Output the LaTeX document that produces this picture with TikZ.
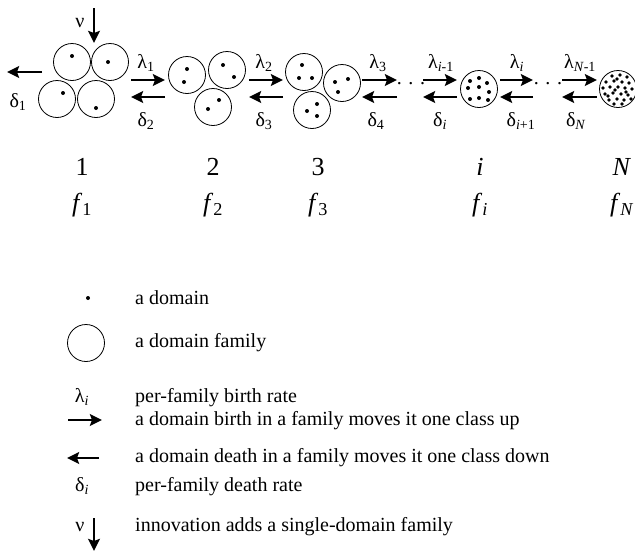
\documentclass[tikz,border=0pt]{standalone}
\usepackage{fontspec}
\setmainfont{Liberation Serif}
\usepackage{tikz}
\usetikzlibrary{arrows.meta, positioning, calc}

\newcommand{\rsub}[1]{\textsubscript{#1}}

\begin{document}
\begin{tikzpicture}[x=1pt, y=-1pt,
    rate/.style={line width=2.5pt, -{Stealth[length=12pt, width=11.5pt, inset=2pt]}},
    family/.style={draw, circle, line width=0.8pt, minimum size=37pt, inner sep=0pt},
    greek/.style={font=\fontsize{20}{22}\selectfont, inner sep=1pt},
    big/.style={font=\fontsize{26}{28}\selectfont, inner sep=0pt},
    legend/.style={font=\fontsize{20}{22}\selectfont, anchor=west, inner sep=0pt}
]
    \useasboundingbox (0,0) rectangle (635,555);

    % Families of class 1
    \node[family] (c1a) at (72,62) {};
    \node[family] (c1b) at (110,62) {};
    \node[family] (c1c) at (57,99) {};
    \node[family] (c1d) at (96,99) {};
    \foreach \x/\y in {72/56, 108/62, 63/93, 96/108}
        \fill (\x,\y) circle (2pt);

    % Families of class 2
    \node[family] (c2a) at (187,75) {};
    \node[family] (c2b) at (227,70) {};
    \node[family] (c2c) at (213,107) {};
    \foreach \x/\y in {187/69, 184/82, 223/65, 234/77, 219/100, 208/109}
        \fill (\x,\y) circle (2pt);

    % Families of class 3
    \node[family] (c3a) at (304,72) {};
    \node[family] (c3b) at (342,83) {};
    \node[family] (c3c) at (312,110) {};
    \foreach \x/\y in {302/65, 299/78, 312/78, 335/82, 348/79, 338/92, 317/104, 307/111, 317/116}
        \fill (\x,\y) circle (2pt);

    % Family of class i
    \node[family] (ci) at (479,89) {};
    \foreach \x/\y in {470/81, 479/78, 487/83, 468/88, 479/87, 489/92, 470/99, 479/98, 488/100}
        \fill (\x,\y) circle (2pt);

    % Family of class N
    \node[family] (cN) at (618,89) {};
    \foreach \x/\y in {-6/-13, 2/-14, 9/-12, -12/-7, -4/-8, 4/-7, 11/-6, -15/-1, -8/-2, 0/-2,
        7/-1, 14/0, -13/5, -5/4, 3/5, 10/6, -9/11, -1/10, 6/11, 13/10, -4/15, 4/15,
        -1/-10, -10/7, 8/3, -3/1}
        \fill ($(cN)+(\x,\y)$) circle (1.8pt);

    % Innovation and loss of class 1
    \coordinate (nuA) at (94,8);
    \coordinate (nuB) at (94,43);
    \draw[rate] (nuA) -- (nuB);
    \node[greek] (nu) at (80,23) {ν};
    \coordinate (d1A) at (42,72);
    \coordinate (d1B) at (7,72);
    \draw[rate] (d1A) -- (d1B);
    \node[greek] (del1) at (18,102) {δ\rsub{1}};

    % Births (upper) and deaths (lower) between classes
    \foreach \n/\xa/\xb in {1/131/165, 2/249/283, 3/362/397, 4/423/457, 5/500/533, 6/562/597} {
        \coordinate (b\n a) at (\xa,80);
        \coordinate (b\n b) at (\xb,80);
        \coordinate (d\n a) at (\xb,97);
        \coordinate (d\n b) at (\xa,97);
        \draw[rate] (b\n a) -- (b\n b);
        \draw[rate] (d\n a) -- (d\n b);
    }

    % Rate labels
    \node[greek] (lam1) at (146,63) {λ\rsub{1}};
    \node[greek] (del2) at (146,121) {δ\rsub{2}};
    \node[greek] (lam2) at (264,63) {λ\rsub{2}};
    \node[greek] (del3) at (264,121) {δ\rsub{3}};
    \node[greek] (lam3) at (378,63) {λ\rsub{3}};
    \node[greek] (del4) at (376,121) {δ\rsub{4}};
    \node[greek] (lami1) at (441,63) {λ\rsub{\textit{i}-1}};
    \node[greek] (deli) at (440,121) {δ\rsub{\textit{i}}};
    \node[greek] (lami) at (517,63) {λ\rsub{\textit{i}}};
    \node[greek] (deli1) at (521,121) {δ\rsub{\textit{i}+1}};
    \node[greek] (lamN1) at (580,63) {λ\rsub{\textit{N}-1}};
    \node[greek] (delN) at (576,121) {δ\rsub{\textit{N}}};

    % Omitted classes
    \node[greek] (gap1) at (411,84) {. . .};
    \node[greek] (gap2) at (548,84) {. . .};

    % Class numbers and frequencies
    \foreach \name/\x/\num/\freq in {1/82/1/1, 2/213/2/2, 3/318/3/3,
        i/480/\textit{i}/\textit{i}, N/622/\textit{N}/\textit{N}} {
        \node[big] (num\name) at (\x,167) {\num};
        \node[big] (f\name) at (\x,205) {\textit{f}\rsub{\freq}};
    }

    % Legend
    \fill (88,298) coordinate (ldot) circle (2pt);
    \node[legend] (tdot) at (135,298) {a domain};
    \node[family] (lfam) at (86,343) {};
    \node[legend] (tfam) at (135,343) {a domain family};

    \node[greek] (llam) at (82,397) {λ\rsub{\textit{i}}};
    \node[legend] (tlam) at (135,398) {per-family birth rate};
    \coordinate (lbA) at (68,420);
    \coordinate (lbB) at (102,420);
    \draw[rate] (lbA) -- (lbB);
    \node[legend] (tbirth) at (135,421) {a domain birth in a family moves it one class up};

    \coordinate (ldA) at (99,458);
    \coordinate (ldB) at (67,458);
    \draw[rate] (ldA) -- (ldB);
    \node[legend] (tdeath) at (135,458) {a domain death in a family moves it one class down};
    \node[greek] (ldel) at (82,486) {δ\rsub{\textit{i}}};
    \node[legend] (tdel) at (135,487) {per-family death rate};

    \node[greek] (lnu) at (80,527) {ν};
    \coordinate (lnA) at (94,518);
    \coordinate (lnB) at (94,551);
    \draw[rate] (lnA) -- (lnB);
    \node[legend] (tnu) at (135,527) {innovation adds a single-domain family};
\end{tikzpicture}
\end{document}
